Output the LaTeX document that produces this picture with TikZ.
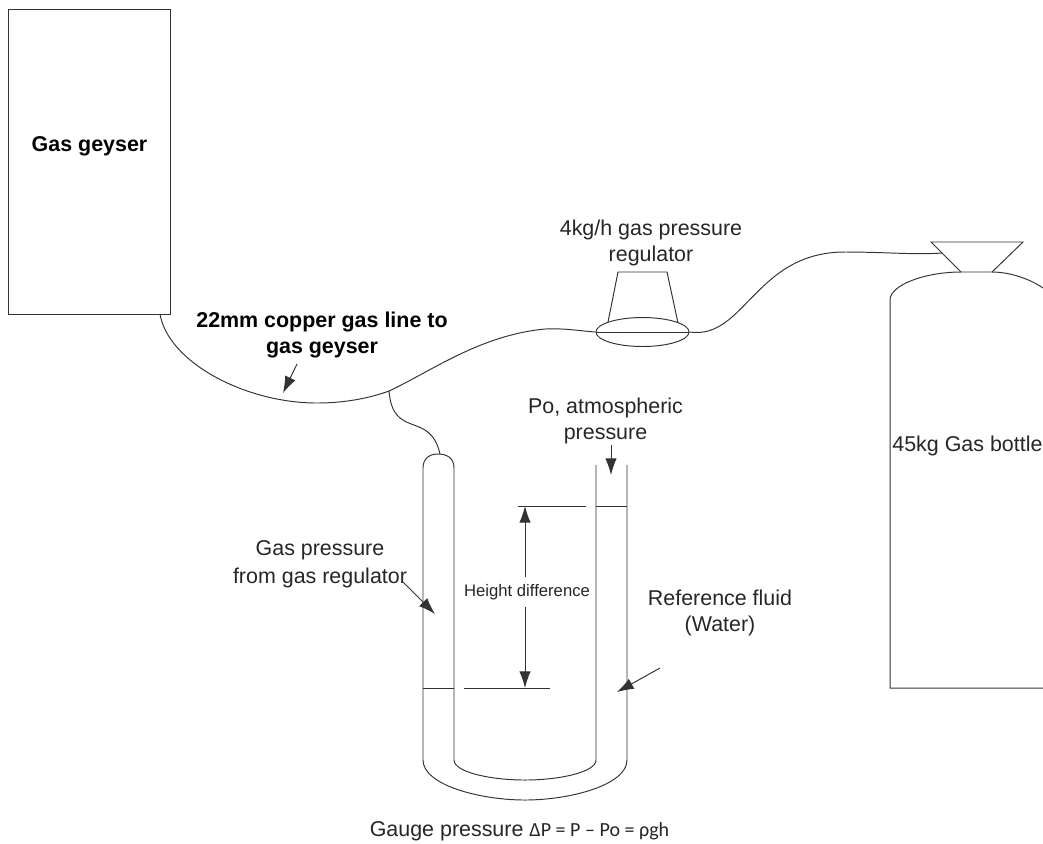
\documentclass[tikz,border=0pt]{standalone}
\usepackage{fontspec}
\setmainfont{Liberation Sans}
\newfontfamily\formulafont{Carlito}
\usetikzlibrary{arrows.meta,shapes.geometric}
\definecolor{pipeline}{HTML}{333333}
\tikzset{
  x=0.02cm, y=-0.02cm,
  pipe/.style={draw=pipeline, line width=0.55pt},
  pointer/.style={pipe, -{Latex[length=9.5pt,width=6.5pt]}},
  caption/.style={align=center, inner sep=0pt, text=black!85,
                  font=\fontsize{12.2}{15}\selectfont},
  boldcaption/.style={caption, text=black, font=\fontsize{12.2}{15}\selectfont\bfseries},
  smallcaption/.style={caption, font=\fontsize{9.5}{11}\selectfont},
}

\begin{document}
\begin{tikzpicture}
    \useasboundingbox (0, 0) rectangle (1043, 843);

    % geyser and bottle
    \draw[pipe] (8, 9) rectangle (170, 314);
    \draw[pipe] (1043, 688) -- (890, 688) -- (890, 300)
        .. controls (890, 285) and (925, 272) .. (961, 272) -- (992, 272)
        .. controls (1010, 272) and (1030, 279) .. (1043, 288);
    \draw[pipe] (961, 272) -- (931, 242) -- (1023, 242) -- (992, 272);

    % regulator
    \node[pipe, ellipse, minimum width=1.86cm, minimum height=0.58cm, inner sep=0pt] (regbody) at (642.5, 332) {};
    \draw[pipe] (regbody.west) -- (regbody.east);
    \draw[pipe] (608, 322) -- (618, 272) -- (667, 272) -- (678, 323);

    % points on the gas line
    \coordinate (outlet) at (160, 314);
    \coordinate (tee) at (389, 391);
    \coordinate (bottlein) at (942, 253);
    \coordinate (tubetop) at (440, 454);

    \draw[pipe] (outlet) .. controls (168, 362) and (245, 403) .. (317, 403)
        .. controls (345, 403) and (370, 398) .. (tee)
        .. controls (430, 372) and (480, 335) .. (545, 329)
        .. controls (565, 328) and (580, 331) .. (regbody.west);
    \draw[pipe] (regbody.east) .. controls (745, 340) and (755, 252) .. (845, 252)
        .. controls (885, 252) and (915, 255) .. (bottlein);
    \draw[pipe] (tee) .. controls (393, 440) and (430, 410) .. (tubetop);

    % manometer
    \draw[pipe] (423, 688) -- (423, 468) .. controls (423, 458) and (430, 454) .. (438, 454)
        .. controls (447, 454) and (454, 458) .. (454, 468) -- (454, 760)
        .. controls (454, 772) and (490, 780) .. (525, 780)
        .. controls (560, 780) and (596, 772) .. (596, 760) -- (596, 465);
    \draw[pipe] (423, 688) -- (423, 760) .. controls (423, 785) and (480, 800) .. (525, 800)
        .. controls (570, 800) and (627, 785) .. (627, 760) -- (627, 465);
    \draw[pipe] (423, 688) -- (454, 688);
    \draw[pipe] (596, 506) -- (627, 506);
    \draw[pipe] (518, 506) -- (586, 506);
    \draw[pipe] (464, 688) -- (550, 688);

    % labels
    \node[boldcaption] (geyserlabel) at (89.5, 146) {Gas geyser};
    \node[boldcaption] (linelabel) at (322, 335) {22mm copper gas line to\\gas geyser};
    \node[caption] (reglabel) at (651, 243) {4kg/h gas pressure\\regulator};
    \node[caption] (atmlabel) at (605.5, 421) {Po, atmospheric\\pressure};
    \node[caption, font=\fontsize{12.2}{16}\selectfont] (gaslabel) at (320, 564) {Gas pressure\\from gas regulator};
    \node[caption] (fluidlabel) at (720, 613) {Reference fluid\\(Water)};
    \node[caption, anchor=west] (bottlelabel) at (892, 446) {45kg Gas bottle};
    \node[smallcaption] (heightlabel) at (527, 592) {Height difference};
    \node[caption] (gaugelabel) at (519.5, 831) {Gauge pressure {\formulafont\fontsize{11.4}{13}\selectfont ΔP = P – Po = ρgh}};

    % arrows
    \coordinate (linetip) at (283, 393);
    \coordinate (gastip) at (435, 614);
    \coordinate (fluidtip) at (617, 692);
    \coordinate (atmtip) at (611, 475);
    \coordinate (hightip) at (525, 506);
    \coordinate (lowtip) at (525, 688);
    \draw[pointer] (297, 364) -- (linetip);
    \draw[pointer] (403, 582) -- (gastip);
    \draw[pointer] (660, 668) -- (fluidtip);
    \draw[pointer] (611, 445) -- (atmtip);
    \draw[pointer] (525, 577) -- (hightip);
    \draw[pointer] (525, 607) -- (lowtip);
\end{tikzpicture}
\end{document}
